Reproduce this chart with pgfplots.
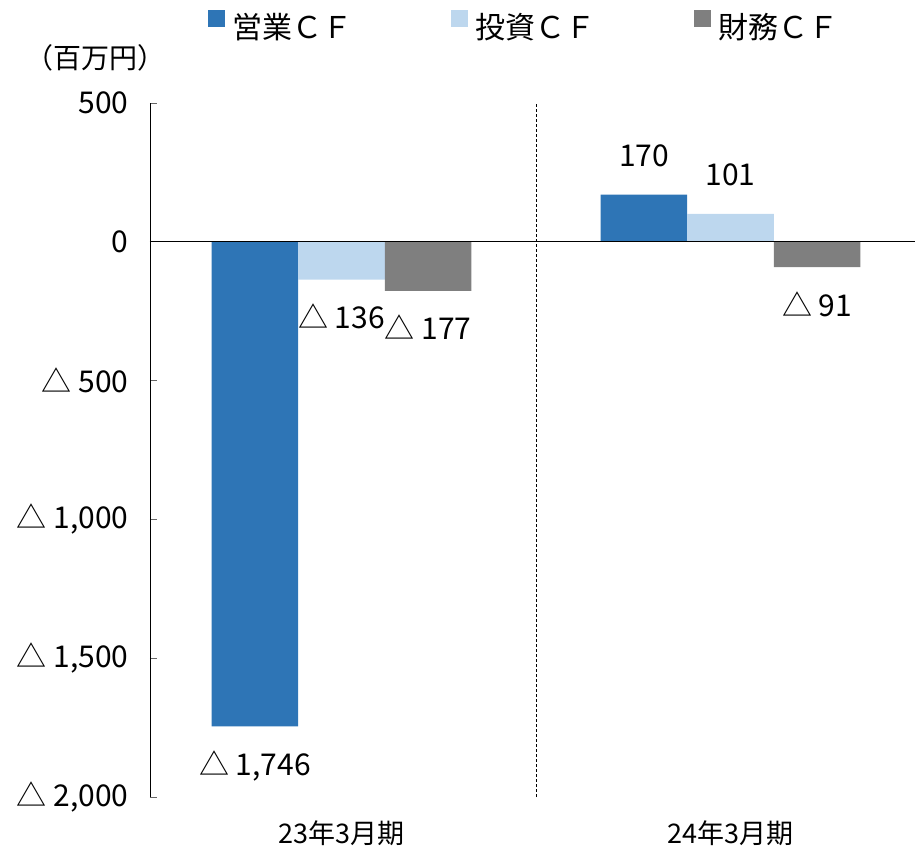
\documentclass[border=0pt]{standalone}
\usepackage{pgfplots}
\pgfplotsset{compat=1.18}
\usepackage{fontspec}
\setmainfont{Noto Sans CJK JP}
\definecolor{opc}{RGB}{46,117,182}
\definecolor{invc}{RGB}{189,215,238}
\definecolor{finc}{RGB}{127,127,127}
\makeatletter
\newcommand\cflabel{%
  \pgfmathfloatgetflagstomacro\pgfplotspointmeta\cfflag
  \ifnum\cfflag=2 △ \pgfmathfloatabs@{\pgfplotspointmeta}\pgfmathprintnumber[fixed,precision=0,1000 sep={,},assume math mode=true]{\pgfmathresult}%
  \else\pgfmathprintnumber[fixed,precision=0,1000 sep={,},assume math mode=true]{\pgfplotspointmeta}\fi}
\newcommand\cfanchor{%
  \pgfmathfloatgetflagstomacro\pgfplotspointmeta\cfflagb
  \ifnum\cfflagb=2 \pgfkeysalso{/tikz/anchor=north,/tikz/yshift=4pt}\else\pgfkeysalso{/tikz/anchor=south}\fi}
\makeatother
\begin{document}
\begin{tikzpicture}
\begin{axis}[
  at={(0pt,0pt)}, anchor=south west,
  scale only axis, width=765pt, height=694pt,
  xmin=-0.4923, xmax=1.4743,
  ymin=-2000, ymax=500,
  ybar=0pt, bar width=0.2224,
  axis y line*=left, axis x line*=bottom,
  x axis line style={draw=none},
  y axis line style={black, line width=0.8pt},
  xtick={0,1}, xticklabels={23年3月期,24年3月期},
  xtick style={draw=none},
  ytick={-2000,-1500,-1000,-500,0,500},
  yticklabels={{△ 2,000},{△ 1,500},{△ 1,000},{△ 500},0,500},
  tick align=inside, major tick length=7pt,
  ytick style={black!60, line width=0.8pt},
  yticklabel style={font=\fontsize{30}{36}\selectfont, xshift=-18pt},
  xticklabel style={font=\fontsize{27}{32}\selectfont, yshift=-20pt},
  /pgf/number format/assume math mode=true,
  point meta=y,
  nodes near coords={\cflabel},
  every node near coord/.append style={font=\fontsize{30}{34}\selectfont, inner ysep=28pt, text=black, /utils/exec={\cfanchor}},
  legend style={draw=none, fill=none, inner sep=0pt, outer sep=0pt, nodes={inner sep=0pt},
    at={(0.0758,1.134)}, anchor=north west, legend columns=3,
    font=\fontsize{30}{36}\selectfont,
    /tikz/every odd column/.append style={column sep=8pt},
    /tikz/every even column/.append style={column sep=98pt}},
  legend image code/.code={\fill[#1] (0pt,0pt) rectangle (17pt,17pt);},
  clip=false,
]
\addplot[fill=opc, draw=none] coordinates {(0,-1746) (1,170)};
\addplot[fill=invc, draw=none] coordinates {(0,-136) (1,101)};
\addplot[fill=finc, draw=none] coordinates {(0,-177) (1,-91)};
\legend{営業ＣＦ,投資ＣＦ,財務ＣＦ}
\draw[black, line width=0.8pt, dash pattern=on 3pt off 2pt] (axis cs:0.5,-2000) -- (axis cs:0.5,500);
\draw[black, line width=1pt] (axis cs:-0.4923,0) -- (axis cs:1.4743,0);
\end{axis}
\node[font=\fontsize{28}{32}\selectfont] at (-54pt,739pt) {（百万円）};
\pgfresetboundingbox
\path[use as bounding box] (-150pt,-55pt) rectangle (765pt,797pt);
\end{tikzpicture}
\end{document}
